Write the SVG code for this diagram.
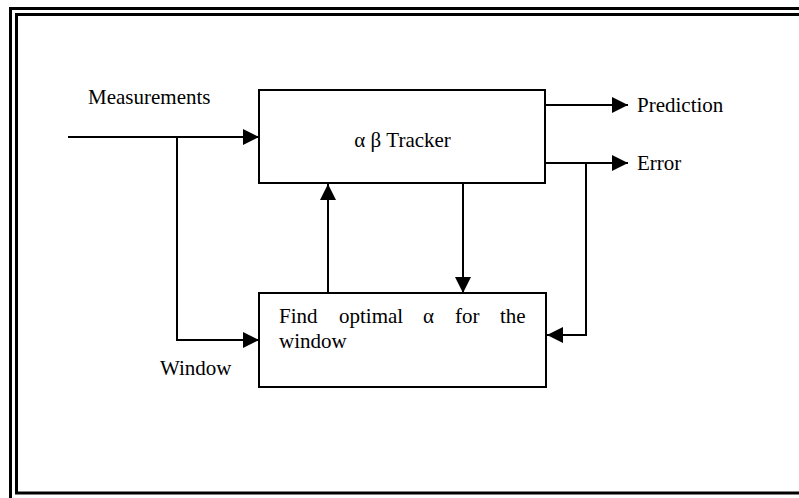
<svg xmlns="http://www.w3.org/2000/svg" width="799" height="498" viewBox="0 0 799 498">
<style>
.frame{fill:none;stroke:#000;stroke-width:3}
.box{fill:#fff;stroke:#000;stroke-width:2}
.ln{fill:none;stroke:#000;stroke-width:2}
.t{font-family:"Liberation Serif","Times New Roman",serif;font-size:21px;fill:#000}
</style>
<defs>
<marker id="ah" markerUnits="userSpaceOnUse" markerWidth="16" markerHeight="16" refX="16" refY="8" orient="auto">
<path d="M0,0 L16,8 L0,16 z" fill="#000"/>
</marker>
</defs>
<rect width="799" height="498" fill="#fff"/>
<g id="frame">
<rect class="frame" x="10.5" y="8.5" width="800" height="500"/>
<rect class="frame" x="16.5" y="14.5" width="800" height="478.5"/>
</g>
<g id="connectors">
<line class="ln" x1="68" y1="137" x2="259" y2="137" marker-end="url(#ah)"/>
<polyline class="ln" points="177,137 177,340 259,340" marker-end="url(#ah)"/>
<line class="ln" x1="328" y1="293" x2="328" y2="184" marker-end="url(#ah)"/>
<line class="ln" x1="463" y1="184" x2="463" y2="293" marker-end="url(#ah)"/>
<line class="ln" x1="545" y1="105" x2="628" y2="105" marker-end="url(#ah)"/>
<line class="ln" x1="545" y1="163" x2="628" y2="163" marker-end="url(#ah)"/>
<polyline class="ln" points="586,163 586,335 547,335" marker-end="url(#ah)"/>
</g>
<g id="tracker">
<rect class="box" x="259" y="90" width="286" height="93"/>
<text class="t" x="402.5" y="147" text-anchor="middle">α β Tracker</text>
</g>
<g id="optimizer">
<rect class="box" x="259" y="293" width="287" height="94"/>
<text class="t" y="323"><tspan x="279">Find</tspan><tspan x="339">optimal</tspan><tspan x="423">α</tspan><tspan x="455">for</tspan><tspan x="500">the</tspan></text>
<text class="t" x="279" y="348">window</text>
</g>
<g id="labels">
<text class="t" x="88" y="104">Measurements</text>
<text class="t" x="637" y="112">Prediction</text>
<text class="t" x="637" y="170">Error</text>
<text class="t" x="160" y="375">Window</text>
</g>
</svg>
